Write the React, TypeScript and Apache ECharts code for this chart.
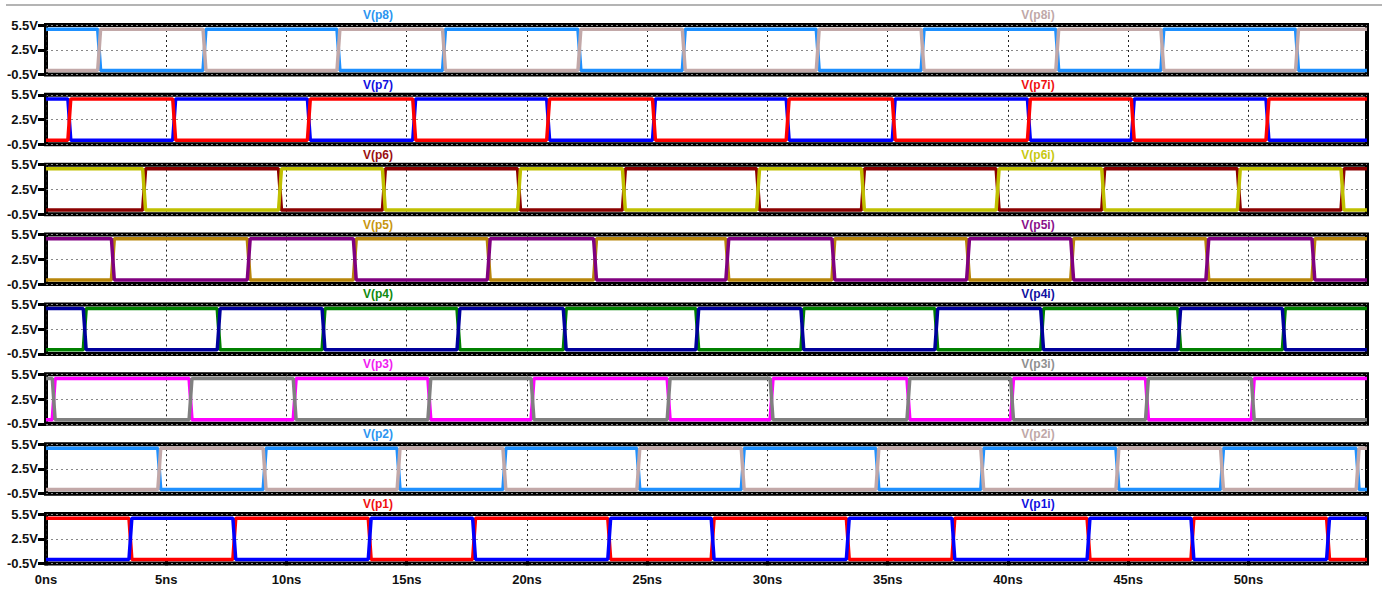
import React, { useEffect, useRef } from "react";
import * as echarts from "echarts";

// ---- data ----
const X_MAX = 54.93; // ns
const X_TICKS = [0, 5, 10, 15, 20, 25, 30, 35, 40, 45, 50];
const Y_TICKS = [-0.5, 2.5, 5.5];
const HIGH = 5;
const LOW = 0;
const RISE = 0.12; // ns, visible edge slope

const NAMES_P = ["V(p8)", "V(p7)", "V(p6)", "V(p5)", "V(p4)", "V(p3)", "V(p2)", "V(p1)"];
const NAMES_PI = ["V(p8i)", "V(p7i)", "V(p6i)", "V(p5i)", "V(p4i)", "V(p3i)", "V(p2i)", "V(p1i)"];
const COLORS_P = ["#1E90FF", "#0000FF", "#8B0000", "#B8860B", "#008000", "#FF00FF", "#1E90FF", "#FF0000"];
const COLORS_PI = ["#C2A8A8", "#FF0000", "#C0C000", "#800080", "#00009C", "#808080", "#C2A8A8", "#0000FF"];
const TITLE_COLORS_P = ["#2C95F0", "#1010E0", "#9A1010", "#C8960F", "#108A10", "#F020F0", "#2C95F0", "#F01010"];
const TITLE_COLORS_PI = ["#C0A8A8", "#F01010", "#C8C810", "#8A108A", "#1010A0", "#909090", "#C0A8A8", "#1010E0"];
// initial level of the non-inverted trace (true = high)
const START_HIGH_P = [true, true, false, false, false, false, true, true];

// switching instants (ns) of each pair
const EDGES_P8 = [2.21, 6.59, 12.16, 16.55, 22.18, 26.52, 32.09, 36.45, 42.05, 46.42, 52.02];
const EDGES_P7 = [0.97, 5.33, 10.93, 15.31, 20.88, 25.28, 30.84, 35.25, 40.87, 45.19, 50.79];
const EDGES_P6 = [4.08, 9.73, 14.05, 19.67, 24.03, 29.61, 33.97, 39.57, 43.96, 49.6, 53.91];
const EDGES_P5 = [2.78, 8.43, 12.84, 18.41, 22.83, 28.33, 32.74, 38.34, 42.67, 48.29, 52.7];
const EDGES_P4 = [1.61, 7.18, 11.54, 17.15, 21.57, 27.08, 31.45, 37.02, 41.42, 47.12, 51.47];
const EDGES_P3 = [0.32, 6.01, 10.34, 15.94, 20.23, 25.89, 30.17, 35.86, 40.17, 45.78, 50.18];
const EDGES_P2 = [4.71, 9.09, 14.66, 19.06, 24.63, 28.97, 34.57, 38.93, 44.55, 48.9, 54.54];
const EDGES_P1 = [3.51, 7.83, 13.46, 17.8, 23.42, 27.72, 33.34, 37.73, 43.35, 47.67, 53.31];
const EDGES = [EDGES_P8, EDGES_P7, EDGES_P6, EDGES_P5, EDGES_P4, EDGES_P3, EDGES_P2, EDGES_P1];

// ---- layout ----
const W = 1382;
const H = 590;
const GRID_LEFT = 46;
const GRID_RIGHT = 15;
const TOP0 = 25;
const PITCH = 69.86;
const PANE_H = 49.5;
const FONT = "Liberation Sans, Arial, sans-serif";

function wave(edges: number[], startHigh: boolean): number[][] {
  const pts: number[][] = [];
  let lvl = startHigh ? HIGH : LOW;
  pts.push([0, lvl]);
  for (const t of edges) {
    pts.push([t - RISE / 2, lvl]);
    lvl = lvl === HIGH ? LOW : HIGH;
    pts.push([t + RISE / 2, lvl]);
  }
  pts.push([X_MAX, lvl]);
  return pts;
}

export default function App() {
  const ref = useRef<HTMLDivElement>(null);
  useEffect(() => {
    if (!ref.current) return;
    const chart = echarts.init(ref.current, undefined, { renderer: "svg", width: W, height: H });
    const n = EDGES.length;
    const grids: any[] = [];
    const xAxes: any[] = [];
    const yAxes: any[] = [];
    const series: any[] = [];
    const graphics: any[] = [
      { type: "line", shape: { x1: 6, y1: 5, x2: W, y2: 5 }, style: { stroke: "#B4B4B4", lineWidth: 2 }, silent: true },
    ];
    for (let i = 0; i < n; i++) {
      const top = TOP0 + i * PITCH;
      const last = i === n - 1;
      grids.push({
        left: GRID_LEFT,
        right: GRID_RIGHT,
        top,
        height: PANE_H,
        show: true,
        backgroundColor: "#fff",
        borderColor: "#000",
        borderWidth: 4,
      });
      xAxes.push({
        type: "value",
        gridIndex: i,
        min: 0,
        max: X_MAX,
        axisLine: { show: false },
        axisTick: {
          show: last,
          customValues: X_TICKS,
          length: 6,
          lineStyle: { color: "#000", width: 3 },
        },
        axisLabel: {
          show: last,
          customValues: X_TICKS,
          formatter: (v: number) => `${v}ns`,
          margin: 9,
          color: "#111",
          fontSize: 13,
          fontWeight: "bold",
          fontFamily: FONT,
        },
        splitLine: { show: true, lineStyle: { color: "#222", width: 1, type: [2, 3] } },
      });
      yAxes.push({
        type: "value",
        gridIndex: i,
        min: -0.5,
        max: 5.5,
        axisLine: { show: false },
        axisTick: {
          show: true,
          customValues: Y_TICKS,
          length: 8,
          lineStyle: { color: "#000", width: 3 },
        },
        axisLabel: {
          customValues: Y_TICKS,
          formatter: (v: number) => `${v}V`,
          margin: 8,
          color: "#111",
          fontSize: 13,
          fontWeight: "bold",
          fontFamily: FONT,
        },
        splitLine: { show: true, lineStyle: { color: "#888", width: 1, type: [2, 3] } },
      });
      series.push({
        type: "line",
        name: NAMES_P[i],
        xAxisIndex: i,
        yAxisIndex: i,
        data: wave(EDGES[i], START_HIGH_P[i]),
        showSymbol: false,
        lineStyle: { color: COLORS_P[i], width: 3.5 },
        itemStyle: { color: COLORS_P[i] },
      });
      series.push({
        type: "line",
        name: NAMES_PI[i],
        xAxisIndex: i,
        yAxisIndex: i,
        data: wave(EDGES[i], !START_HIGH_P[i]),
        showSymbol: false,
        lineStyle: { color: COLORS_PI[i], width: 3.5 },
        itemStyle: { color: COLORS_PI[i] },
      });
      graphics.push({
        type: "text",
        x: 378,
        y: top - 10,
        style: {
          text: NAMES_P[i],
          fill: TITLE_COLORS_P[i],
          font: `bold 12px ${FONT}`,
          textAlign: "center",
          textVerticalAlign: "middle",
        },
      });
      graphics.push({
        type: "text",
        x: 1038,
        y: top - 10,
        style: {
          text: NAMES_PI[i],
          fill: TITLE_COLORS_PI[i],
          font: `bold 12px ${FONT}`,
          textAlign: "center",
          textVerticalAlign: "middle",
        },
      });
    }
    chart.setOption({
      animation: false,
      backgroundColor: "#fff",
      grid: grids,
      xAxis: xAxes,
      yAxis: yAxes,
      series,
      graphic: graphics,
    });
    return () => chart.dispose();
  }, []);
  return (
    <div
      ref={ref}
      style={{ position: "fixed", left: 0, top: 0, width: W, height: H, background: "#fff" }}
    />
  );
}
